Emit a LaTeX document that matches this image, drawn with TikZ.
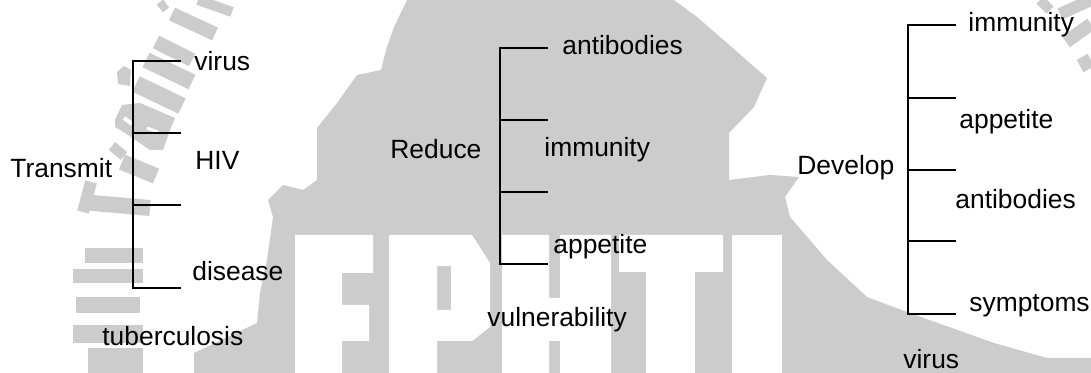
\documentclass[tikz,border=0pt]{standalone}
\usepackage{xcolor}
\usepackage{fontspec}
\setmainfont{Liberation Sans}
\definecolor{wmgray}{HTML}{CCCCCC}
\begin{document}
\begin{tikzpicture}[x=0.5pt, y=-0.5pt,
    lbl/.style={anchor=base west, inner sep=0pt, font=\fontsize{13.2}{15}\selectfont},
    brk/.style={line width=0.85pt, black},
    strip/.style={line width=7pt, wmgray},
    blob/.style={fill=wmgray, draw=none},
    letter/.style={fill=white, draw=none}]
  \useasboundingbox (0,0) rectangle (1091,373);
  \fill[white] (0,0) rectangle (1091,373);

  % grey shape behind the text
  \fill[blob] (194,373) -- (194,353) -- (257,323) -- (260,293) -- (267,260) -- (273,217)
    -- (268,200) -- (283,185) -- (303,190) -- (317,180) -- (317,128) -- (337,103) -- (357,75)
    -- (381,70) -- (386,50) -- (394,27) -- (407,0) -- (674,0) -- (697,17) -- (727,43)
    -- (767,78) -- (754,107) -- (729,133) -- (729,180) -- (770,175) -- (799,177)
    -- (785,197) -- (790,217) -- (827,260) -- (867,297) -- (907,312) -- (994,343)
    -- (1047,358) -- (1091,358) -- (1091,373) -- cycle;

  % white letters
  \fill[letter] (295,373) -- (295,235) -- (373,235) -- (373,273) -- (342,273) -- (342,305)
    -- (369,305) -- (369,341) -- (342,341) -- (342,373) -- cycle;
  \fill[letter, even odd rule] (389,373) -- (389,235) -- (472,235) -- (490,263) -- (490,327)
    -- (472,341) -- (437,341) -- (437,373) -- cycle
    (437,266) -- (451,266) -- (451,310) -- (437,310) -- cycle;
  \fill[letter] (502,373) -- (502,235) -- (549,235) -- (549,298) -- (560,298) -- (560,235)
    -- (611,235) -- (611,373) -- (560,373) -- (560,341) -- (549,341) -- (549,373) -- cycle;
  \fill[letter] (619,235) -- (723,235) -- (723,272) -- (695,272) -- (695,373) -- (646,373)
    -- (646,272) -- (619,272) -- cycle;
  \fill[letter] (732,235) rectangle (782,373);

  % lettering on the left and right edges
  \draw[strip, line width=5pt] (198,0) -- (232,12);
  \draw[strip, line width=4pt] (160,2) -- (166,10);
  \draw[strip] (172,14) -- (215,34);
  \draw[strip] (156,42) -- (192,60);
  \draw[strip, line width=8pt] (146,60) -- (192,82);
  \draw[strip, line width=8.5pt] (136,84) -- (182,106);
  \fill[wmgray] (117,72) -- (124,66) -- (131,70) -- (130,86) -- (118,84) -- cycle;
  \fill[wmgray] (115,120) -- (122,105) -- (140,103) -- (175,118) -- (170,130) -- (163,150)
    -- (150,150) -- (125,133) -- (115,127) -- cycle;
  \draw[white, line width=2pt] (124,118) -- (132,124);
  \draw[white, line width=1.5pt] (147,128) -- (158,132);
  \draw[strip, line width=5pt] (112,146) -- (124,156);
  \draw[strip, line width=8pt] (122,162) -- (156,176);
  \draw[strip, line width=8pt] (82,202) -- (150,208);
  \draw[strip, line width=6pt] (91,182) -- (83,212);
  \fill[wmgray] (85,248) rectangle (143,263);
  \fill[wmgray] (73,269) rectangle (143,283);
  \fill[wmgray] (76,297) rectangle (140,313);
  \fill[wmgray] (73,325) rectangle (143,343);
  \fill[wmgray] (88,348) rectangle (143,373);
  \draw[strip, line width=6.5pt] (1066,42) -- (1091,24);
  \draw[strip, line width=5pt] (1040,0) -- (1050,10);
  \draw[strip, line width=6pt] (1060,14) -- (1091,0);
  \draw[strip, line width=7pt] (1080,66) -- (1091,60);

  % left bracket
  \coordinate (ta) at (133,61); \coordinate (tb) at (133,133);
  \coordinate (tc) at (133,205); \coordinate (td) at (133,288);
  \coordinate (tae) at (181,61); \coordinate (tbe) at (181,133);
  \coordinate (tce) at (181,205); \coordinate (tde) at (181,288);
  \draw[brk] (tae) -- (ta) -- (td) -- (tde);
  \draw[brk] (tb) -- (tbe);
  \draw[brk] (tc) -- (tce);

  % middle bracket
  \coordinate (ra) at (500,48); \coordinate (rb) at (500,120);
  \coordinate (rc) at (500,192); \coordinate (rd) at (500,264);
  \coordinate (rae) at (548,48); \coordinate (rbe) at (548,120);
  \coordinate (rce) at (548,192); \coordinate (rde) at (548,264);
  \draw[brk] (rae) -- (ra) -- (rd) -- (rde);
  \draw[brk] (rb) -- (rbe);
  \draw[brk] (rc) -- (rce);

  % right bracket
  \coordinate (da) at (908,25); \coordinate (db) at (908,98);
  \coordinate (dc) at (908,170); \coordinate (dd) at (908,241); \coordinate (de) at (908,314);
  \coordinate (dae) at (956,25); \coordinate (dbe) at (956,98);
  \coordinate (dce) at (956,170); \coordinate (dde) at (956,241); \coordinate (dee) at (956,314);
  \draw[brk] (dae) -- (da) -- (de) -- (dee);
  \draw[brk] (db) -- (dbe);
  \draw[brk] (dc) -- (dce);
  \draw[brk] (dd) -- (dde);

  \node[lbl] (transmit) at (10,178) {Transmit};
  \node[lbl] (tvirus) at (194,71) {virus};
  \node[lbl] (thiv) at (195,170) {HIV};
  \node[lbl] (tdisease) at (192,281) {disease};
  \node[lbl] (ttuber) at (102,345) {tuberculosis};

  \node[lbl] (reduce) at (390,159) {Reduce};
  \node[lbl] (rantibodies) at (562,55) {antibodies};
  \node[lbl] (rimmunity) at (544,157) {immunity};
  \node[lbl] (rappetite) at (553,254) {appetite};
  \node[lbl] (rvulner) at (487,327) {vulnerability};

  \node[lbl] (develop) at (797,175) {Develop};
  \node[lbl] (dimmunity) at (968,32) {immunity};
  \node[lbl] (dappetite) at (959,129) {appetite};
  \node[lbl] (dantibodies) at (955,209) {antibodies};
  \node[lbl] (dsymptoms) at (969,312) {symptoms};
  \node[lbl] (dvirus) at (903,369) {virus};
\end{tikzpicture}
\end{document}
